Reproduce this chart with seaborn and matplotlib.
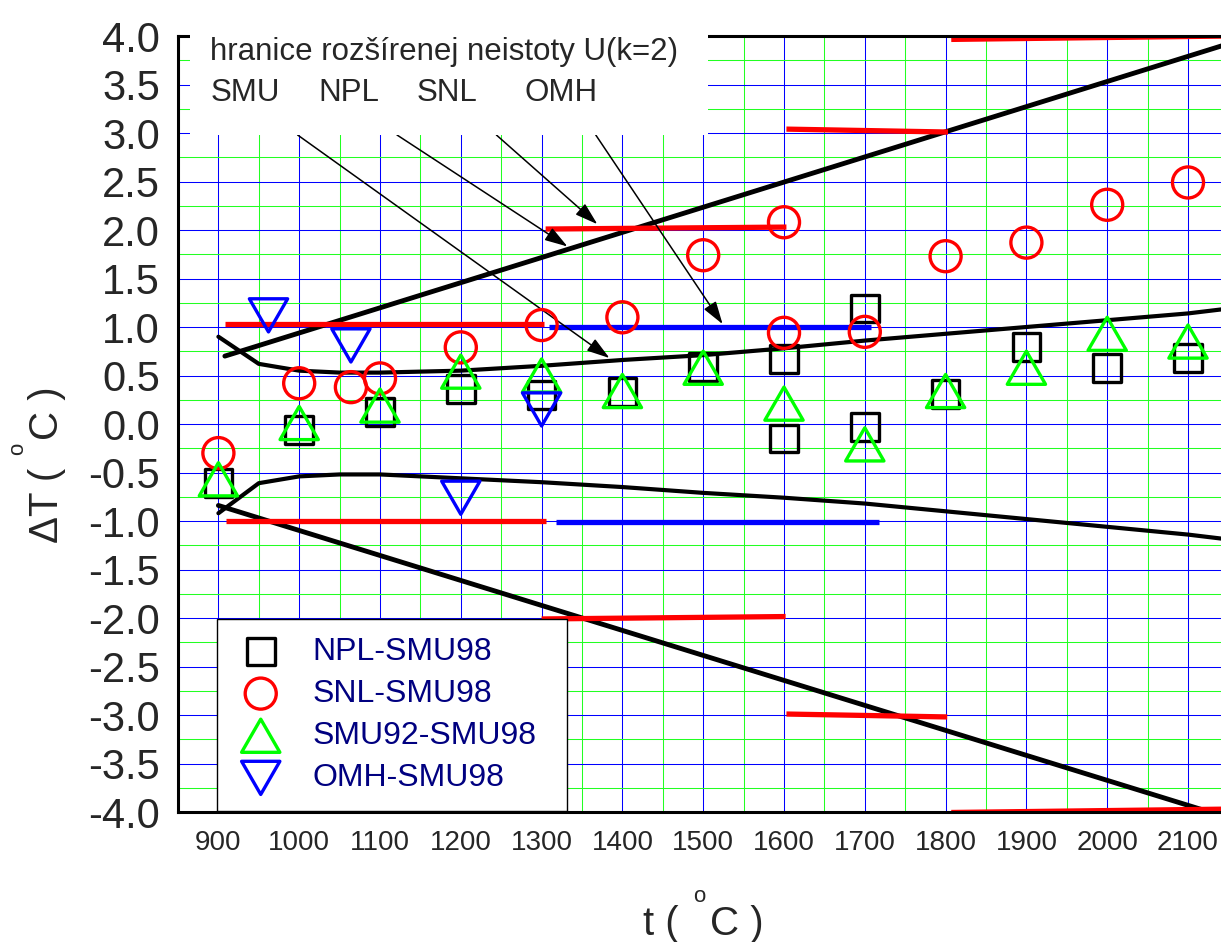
import numpy as np
import seaborn as sns
import matplotlib.pyplot as plt
from matplotlib.patches import Rectangle
from matplotlib.path import Path
from matplotlib.ticker import MultipleLocator, FormatStrFormatter

npl_t = [900, 1000, 1100, 1200, 1300, 1400, 1500, 1600, 1600, 1700, 1700, 1800, 1900, 2000, 2100]
npl_v = [-0.61, -0.06, 0.12, 0.36, 0.30, 0.33, 0.59, 0.67, -0.15, 1.19, -0.03, 0.31, 0.79, 0.58, 0.68]

snl_t = [900, 1000, 1064, 1100, 1200, 1300, 1400, 1500, 1600, 1600, 1700, 1800, 1900, 2000, 2100]
snl_v = [-0.30, 0.42, 0.38, 0.47, 0.79, 1.02, 1.10, 1.74, 2.08, 0.94, 0.95, 1.73, 1.87, 2.26, 2.49]

smu92_t = [900, 1000, 1100, 1200, 1300, 1400, 1500, 1600, 1700, 1800, 1900, 2000, 2100]
smu92_v = [-0.57, 0.01, 0.19, 0.54, 0.50, 0.34, 0.58, 0.21, -0.21, 0.34, 0.58, 0.93, 0.85]

omh_t = [962, 1064, 1200, 1300]
omh_v = [1.12, 0.81, -0.76, 0.15]

# uncertainty limits U(k=2)
smu_up_t = [908, 2150]
smu_up_v = [0.70, 3.92]
smu_lo_t = [900, 2150]
smu_lo_v = [-0.84, -4.06]

npl_u_t = [900, 950, 1000, 1050, 1100, 1200, 1300, 1400, 1500, 1600, 1700, 1800, 1900, 2000, 2100, 2150]
npl_u_up = [0.90, 0.62, 0.55, 0.53, 0.53, 0.55, 0.60, 0.66, 0.71, 0.78, 0.86, 0.93, 1.00, 1.07, 1.14, 1.19]
npl_u_lo = [-0.92, -0.61, -0.54, -0.52, -0.52, -0.56, -0.60, -0.65, -0.71, -0.76, -0.82, -0.90, -0.98, -1.06, -1.14, -1.19]

red_t0 = [908, 909, 1305, 1300, 1603, 1603, 1807, 1807]
red_t1 = [1303, 1305, 1603, 1602, 1803, 1802, 2150, 2150]
red_v0 = [1.03, -1.0, 2.01, -2.01, 3.04, -2.99, 3.965, -4.005]
red_v1 = [1.03, -1.0, 2.03, -1.985, 3.01, -3.02, 4.0, -3.97]

blue_t0 = [1309, 1318]
blue_t1 = [1708, 1717]
blue_v = [1.0, -1.007]

# arrows from the labels box: start (t, v) -> tip (t, v)
arrow_start_t = [998, 1121, 1244, 1367]
arrow_start_v = [2.98, 2.98, 2.98, 2.98]
arrow_tip_t = [1384, 1332, 1369, 1524]
arrow_tip_v = [0.68, 1.83, 2.06, 1.03]

box_labels = ['SMU', 'NPL', 'SNL', 'OMH']
box_label_t = [890, 1024, 1145, 1279]

sns.set_style('white')
plt.rcParams['font.family'] = ['Liberation Sans', 'DejaVu Sans']
plt.rcParams['axes.unicode_minus'] = False

W, H = 1221, 942
fig = plt.figure(figsize=(W / 100, H / 100), dpi=100)
ax = fig.add_axes([0.14578, 0.138, 0.86028, 0.82378])
ax.set_axisbelow(True)

# limit lines
sns.lineplot(x=smu_up_t, y=smu_up_v, color='k', lw=3.5, ax=ax, estimator=None, sort=False)
sns.lineplot(x=smu_lo_t, y=smu_lo_v, color='k', lw=3.5, ax=ax, estimator=None, sort=False)
sns.lineplot(x=npl_u_t, y=npl_u_up, color='k', lw=3.0, ax=ax, estimator=None, sort=False)
sns.lineplot(x=npl_u_t, y=npl_u_lo, color='k', lw=3.0, ax=ax, estimator=None, sort=False)
for a, b, c, d in zip(red_t0, red_t1, red_v0, red_v1):
    sns.lineplot(x=[a, b], y=[c, d], color='#ff0000', lw=3.8, ax=ax,
                 estimator=None, sort=False, solid_capstyle='butt')
for a, b, c in zip(blue_t0, blue_t1, blue_v):
    sns.lineplot(x=[a, b], y=[c, c], color='#0000ff', lw=3.8, ax=ax,
                 estimator=None, sort=False, solid_capstyle='butt')

# equilateral triangles like in the original
tri_up = Path([(-1, -0.866), (1, -0.866), (0, 0.866), (-1, -0.866)], closed=True)
tri_dn = Path([(-1, 0.866), (1, 0.866), (0, -0.866), (-1, 0.866)], closed=True)

handles = []
sns.scatterplot(x=npl_t, y=npl_v, marker='s', s=400, color='k', facecolors='none',
                edgecolor='k', linewidth=2.4, ax=ax, label='NPL-SMU98', zorder=4)
handles.append(ax.collections[-1])
sns.scatterplot(x=snl_t, y=snl_v, marker='o', s=500, color='#ff0000', facecolors='none',
                edgecolor='#ff0000', linewidth=2.4, ax=ax, label='SNL-SMU98', zorder=4)
handles.append(ax.collections[-1])
sns.scatterplot(x=smu92_t, y=smu92_v, marker=tri_up, s=760, color='#00ff00', facecolors='none',
                edgecolor='#00ff00', linewidth=2.4, ax=ax, label='SMU92-SMU98', zorder=4)
handles.append(ax.collections[-1])
sns.scatterplot(x=omh_t, y=omh_v, marker=tri_dn, s=760, color='#0000ff', facecolors='none',
                edgecolor='#0000ff', linewidth=2.4, ax=ax, label='OMH-SMU98', zorder=4)
handles.append(ax.collections[-1])

for st, sv, tt, tv in zip(arrow_start_t, arrow_start_v, arrow_tip_t, arrow_tip_v):
    ax.annotate('', xy=(tt, tv), xytext=(st, sv), zorder=2.8,
                arrowprops=dict(arrowstyle='-|>,head_length=0.7,head_width=0.22',
                                mutation_scale=20, color='k', lw=1.1,
                                shrinkA=0, shrinkB=0))

# white label box over the top-left of the frame
ax.add_patch(Rectangle((0.0114, 0.8724), 0.4934, 0.2, transform=ax.transAxes,
                       facecolor='white', edgecolor='none', zorder=3.5, clip_on=False))
ax.text(890, 3.75, 'hranice rozšírenej neistoty U(k=2)', fontsize=22.5,
        va='baseline', ha='left', zorder=4, clip_on=False)
for lab, lt in zip(box_labels, box_label_t):
    ax.text(lt, 3.33, lab, fontsize=22.5, va='baseline', ha='left', zorder=4, clip_on=False)

ax.set_xlim(850, 2150)
ax.set_ylim(-4, 4)
ax.xaxis.set_major_locator(MultipleLocator(100))
ax.xaxis.set_minor_locator(MultipleLocator(50))
ax.yaxis.set_major_locator(MultipleLocator(0.5))
ax.yaxis.set_minor_locator(MultipleLocator(0.25))
ax.yaxis.set_major_formatter(FormatStrFormatter('%.1f'))
ax.set_xticks(range(900, 2101, 100))

ax.grid(True, which='major', color='#0000ff', lw=0.75)
ax.grid(True, which='minor', color='#22ff22', lw=0.75)

ax.tick_params(which='major', direction='in', length=11.5, width=2.2, top=False, right=False)
ax.tick_params(which='minor', direction='in', length=6, width=2.2, top=False, right=False)
ax.tick_params(axis='x', which='major', labelsize=20, pad=13)
ax.tick_params(axis='y', which='major', labelsize=30, pad=13)

for side in ['left', 'bottom', 'top']:
    ax.spines[side].set_linewidth(2.2)
    ax.spines[side].set_color('k')
ax.spines['right'].set_visible(False)

# axis titles with the raised "o" of the original (pixel positions)
def px(x, y):
    return x / W, 1 - y / H

fig.text(*px(643, 935), 't (', fontsize=29, ha='left', va='baseline')
fig.text(*px(693, 902), 'o', fontsize=16, ha='left', va='baseline')
fig.text(*px(710, 935), 'C )', fontsize=29, ha='left', va='baseline')
fig.text(*px(58, 543), 'ΔT (', fontsize=29, ha='left', va='baseline',
         rotation=90, rotation_mode='anchor')
fig.text(*px(23, 455), 'o', fontsize=16, ha='left', va='baseline',
         rotation=90, rotation_mode='anchor')
fig.text(*px(58, 440), 'C )', fontsize=29, ha='left', va='baseline',
         rotation=90, rotation_mode='anchor')

leg = ax.legend(handles=handles, loc='lower left', mode='expand',
                bbox_to_anchor=(0.0371, 0.0013, 0.3332, 0.25),
                borderaxespad=0, fontsize=23, labelcolor='#000080', frameon=True,
                fancybox=False, framealpha=1, edgecolor='k', borderpad=0.555,
                handlelength=1.63, handletextpad=0.81, labelspacing=0.38, scatterpoints=1)
leg.get_frame().set_linewidth(1.0)

fig.savefig('out.png', dpi=100)
